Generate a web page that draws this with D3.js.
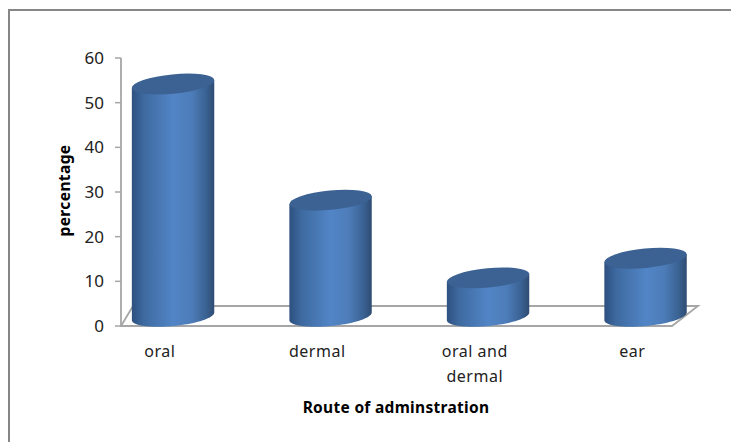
<!DOCTYPE html>
<html>
<head>
<meta charset="utf-8">
<script src="https://cdn.jsdelivr.net/npm/d3@7/dist/d3.min.js"></script>
<style>
html, body { margin: 0; padding: 0; background: #fff; }
svg { display: block; }
text { font-family: "Noto Sans", "Open Sans", sans-serif; fill: #222; }
</style>
</head>
<body>
<svg id="chart" width="731" height="442"></svg>
<script>
const categories = ["oral", "dermal", "oral and|dermal", "ear"];
const percentages = [52, 26, 8.6, 13];
const yTicks = [0, 10, 20, 30, 40, 50, 60];
const yTitle = "percentage";
const xTitle = "Route of adminstration";

const svg = d3.select("#chart");

const y = d3.scaleLinear().domain([0, 60]).range([326, 58]);
const x = d3.scaleBand().domain(categories).range([81, 711]).padding(0);

// Cylinder proportions and the depth of the floor
const radiusX = 41.4, radiusY = 9.7, tilt = -5.6;
const tiltRad = tilt * Math.PI / 180;
const depth = 9.7, barShift = 13.3;

// A point on a tilted ellipse centred at (cx, cy), at angle t
const rimPoint = (cx, cy, t) => {
  const ex = radiusX * Math.cos(t), ey = radiusY * Math.sin(t);
  return [cx + ex * Math.cos(tiltRad) - ey * Math.sin(tiltRad),
          cy + ex * Math.sin(tiltRad) + ey * Math.cos(tiltRad)];
};
const rimLine = d3.line();
const angles = d3.range(0, 49).map(k => k * Math.PI / 48);

const defs = svg.append("defs");
const grad = defs.append("linearGradient").attr("id", "cyl");
[[0, "#2d507f"], [0.14, "#3d699f"], [0.5, "#5285c6"], [0.72, "#4d7db9"], [0.9, "#3a6293"], [1, "#2f4c72"]]
  .forEach(([o, c]) => grad.append("stop").attr("offset", o).attr("stop-color", c));

// Frame: only the top and left edges of the chart area are inked
const frameColor = "#868686";
svg.append("line").attr("x1", 9).attr("x2", 731).attr("y1", 10).attr("y2", 10)
  .attr("stroke", frameColor).attr("stroke-width", 2);
svg.append("line").attr("x1", 9).attr("x2", 9).attr("y1", 9).attr("y2", 442)
  .attr("stroke", frameColor).attr("stroke-width", 2);

// Floor and value axis
const floorColor = "#a6a6a6";
const x0 = 121, x1 = 672, back = 2 * depth + 0.6, skew = 26;
svg.append("path")
  .attr("d", d3.line()([[x0, y(0)], [x1, y(0)], [x1 + skew, y(0) - back], [x0 + 12, y(0) - back]]) + "Z")
  .attr("fill", "none").attr("stroke", floorColor).attr("stroke-width", 1.8);
svg.append("line").attr("x1", x0).attr("x2", x0).attr("y1", y(60)).attr("y2", y(0))
  .attr("stroke", floorColor).attr("stroke-width", 1.8);

const yAxis = svg.append("g");
yAxis.selectAll("line").data(yTicks).join("line")
  .attr("x1", x0 - 6).attr("x2", x0)
  .attr("y1", d => y(d)).attr("y2", d => y(d))
  .attr("stroke", floorColor).attr("stroke-width", 1.5);
yAxis.selectAll("text").data(yTicks).join("text")
  .attr("x", 104).attr("y", d => y(d) + 6)
  .attr("text-anchor", "end").attr("font-size", 17).text(d => d);

// Cylinders: the body runs around the lower rim, the lid is a plain ellipse
const bars = svg.append("g").selectAll("g").data(categories).join("g");
bars.each(function (c, i) {
  const cx = x(c) + x.bandwidth() / 2 + barShift;
  const bottom = y(0) - depth;
  const top = y(percentages[i]) - depth;
  const lowerRim = angles.map(t => rimPoint(cx, bottom, Math.PI - t));
  const g = d3.select(this);
  g.append("path")
    .attr("d", rimLine([rimPoint(cx, top, Math.PI), ...lowerRim, rimPoint(cx, top, 0)]) + "Z")
    .attr("fill", "url(#cyl)");
  g.append("ellipse")
    .attr("rx", radiusX).attr("ry", radiusY)
    .attr("transform", `translate(${cx},${top}) rotate(${tilt})`)
    .attr("fill", "#3b6292");
});

// Category labels, wrapped at the bar character
const labels = svg.append("g").selectAll("text").data(categories).join("text")
  .attr("text-anchor", "middle").attr("font-size", 16).attr("letter-spacing", 0.5)
  .attr("transform", d => `translate(${x(d) + x.bandwidth() / 2},357)`);
labels.selectAll("tspan").data(d => d.split("|")).join("tspan")
  .attr("x", 0).attr("dy", (d, i) => i ? 25 : 0).text(d => d);

// Axis titles
svg.append("text").attr("transform", "translate(70,190.5) rotate(-90)")
  .attr("text-anchor", "middle").attr("font-size", 15.5).attr("font-weight", 700).attr("letter-spacing", 0.4)
  .style("fill", "#000").text(yTitle);
svg.append("text").attr("x", 396).attr("y", 413)
  .attr("text-anchor", "middle").attr("font-size", 15.5).attr("font-weight", 700).attr("letter-spacing", 0.3)
  .style("fill", "#000").text(xTitle);
</script>
</body>
</html>
